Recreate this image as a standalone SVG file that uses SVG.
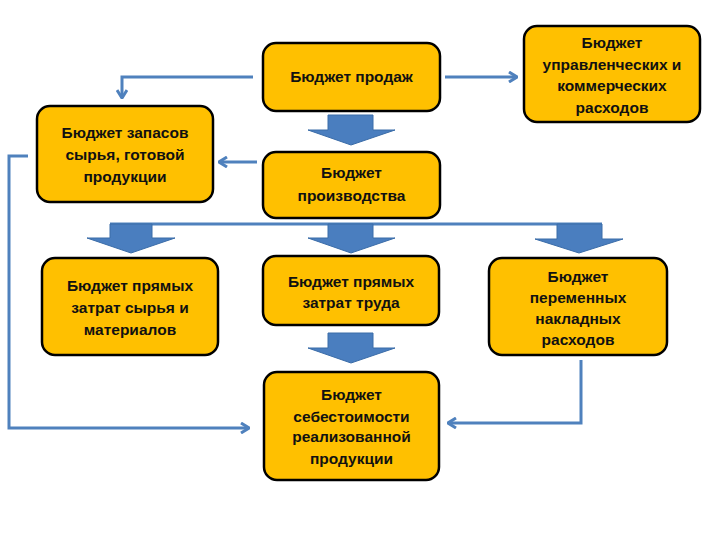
<svg xmlns="http://www.w3.org/2000/svg" width="720" height="540" viewBox="0 0 720 540">
<style>
.box{fill:#FFC000;stroke:#000;stroke-width:2.5}
.t{font-family:"Liberation Sans",Arial,sans-serif;font-size:15.5px;font-weight:bold;fill:#111;text-anchor:middle}
.ln{fill:none;stroke:#4F81BD;stroke-width:3}
.ba{fill:#4A7EBF;stroke:#3A6CA8;stroke-width:1}
</style>
<defs>
<marker id="ah" viewBox="0 0 10 12" refX="9" refY="6" markerWidth="10" markerHeight="12" markerUnits="userSpaceOnUse" orient="auto">
<path d="M1,1 L9,6 L1,11" fill="none" stroke="#4F81BD" stroke-width="3"/>
</marker>
</defs>
<rect width="720" height="540" fill="#fff"/>
<g id="connectors">
<polyline class="ln" points="253,77 122,77 122,98" marker-end="url(#ah)"/>
<line class="ln" x1="445" y1="77" x2="517" y2="77" marker-end="url(#ah)"/>
<line class="ln" x1="257" y1="162" x2="219" y2="162" marker-end="url(#ah)"/>
<polyline class="ln" points="28,156 9,156 9,428 249,428" marker-end="url(#ah)"/>
<polyline class="ln" points="581,360 581,423 448,423" marker-end="url(#ah)"/>
<line class="ln" x1="110" y1="224" x2="602" y2="224"/>
<polygon class="ba" points="328,115 373,115 373,130 395,130 351,145 308,130 328,130"/>
<polygon class="ba" points="110,224 152,224 152,238 175,238 131,253 87,238 110,238"/>
<polygon class="ba" points="328,224 373,224 373,238 395,238 351,253 308,238 328,238"/>
<polygon class="ba" points="557,224 602,224 602,239 623,239 579,253 535,239 557,239"/>
<polygon class="ba" points="328,333 373,333 373,348 395,348 351,363 308,348 328,348"/>
</g>
<g id="sales">
<rect class="box" x="263" y="43" width="177" height="68" rx="13"/>
<text class="t" x="351.5" y="82">Бюджет продаж</text>
</g>
<g id="admin">
<rect class="box" x="524" y="26" width="176" height="96" rx="13"/>
<text class="t" x="612" y="48">Бюджет</text>
<text class="t" x="612" y="70">управленческих и</text>
<text class="t" x="612" y="91">коммерческих</text>
<text class="t" x="612" y="113">расходов</text>
</g>
<g id="stocks">
<rect class="box" x="37" y="106" width="176" height="96" rx="13"/>
<text class="t" x="125" y="138">Бюджет запасов</text>
<text class="t" x="125" y="160">сырья, готовой</text>
<text class="t" x="125" y="182">продукции</text>
</g>
<g id="production">
<rect class="box" x="263" y="152" width="177" height="66" rx="13"/>
<text class="t" x="351.5" y="178">Бюджет</text>
<text class="t" x="351.5" y="201">производства</text>
</g>
<g id="materials">
<rect class="box" x="42" y="258" width="176" height="97" rx="13"/>
<text class="t" x="130" y="291">Бюджет прямых</text>
<text class="t" x="130" y="313">затрат сырья и</text>
<text class="t" x="130" y="335">материалов</text>
</g>
<g id="labour">
<rect class="box" x="263" y="256" width="176" height="69" rx="13"/>
<text class="t" x="351" y="287">Бюджет прямых</text>
<text class="t" x="351" y="308">затрат труда</text>
</g>
<g id="overhead">
<rect class="box" x="489" y="258" width="178" height="97" rx="13"/>
<text class="t" x="578" y="282">Бюджет</text>
<text class="t" x="578" y="303">переменных</text>
<text class="t" x="578" y="324">накладных</text>
<text class="t" x="578" y="345">расходов</text>
</g>
<g id="cost">
<rect class="box" x="264" y="372" width="175" height="108" rx="13"/>
<text class="t" x="351.5" y="400">Бюджет</text>
<text class="t" x="351.5" y="422">себестоимости</text>
<text class="t" x="351.5" y="442">реализованной</text>
<text class="t" x="351.5" y="464">продукции</text>
</g>
</svg>
